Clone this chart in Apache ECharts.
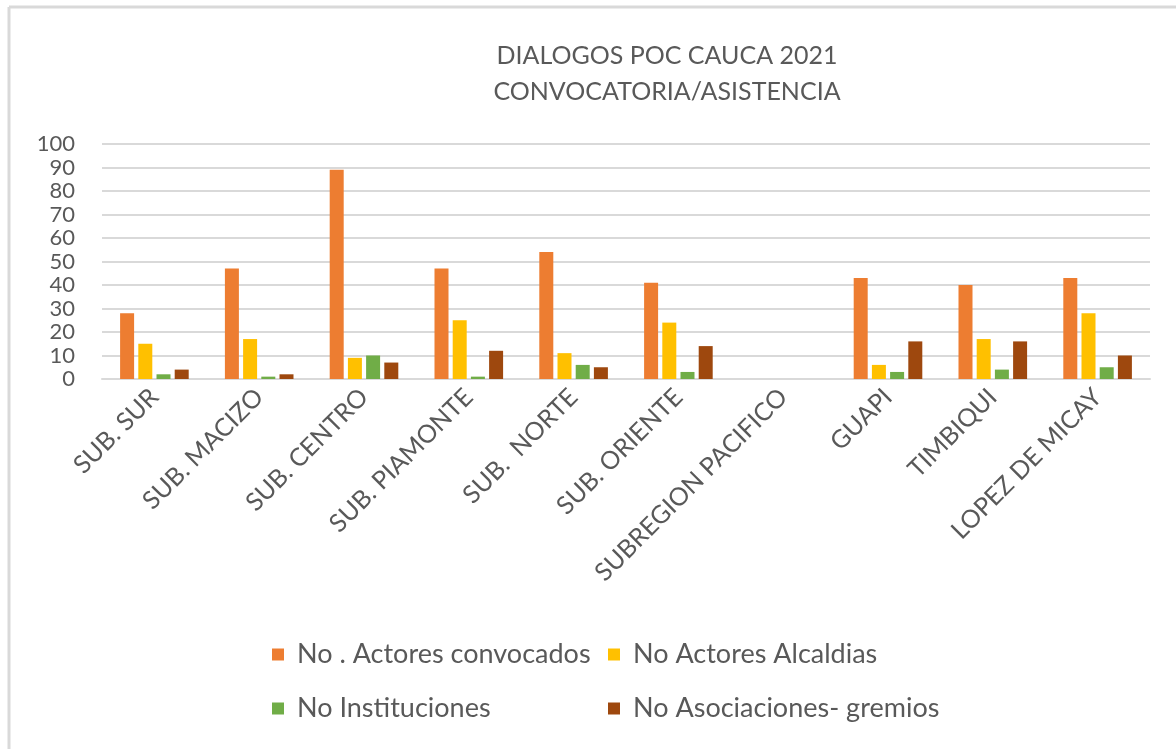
<!DOCTYPE html>
<html>
<head>
<meta charset="utf-8">
<script src="https://cdn.jsdelivr.net/npm/echarts@6/dist/echarts.min.js"></script>
<style>
  html, body { margin: 0; padding: 0; background: #fff; }
  #chart { width: 1176px; height: 749px; }
</style>
</head>
<body>
<div id="chart"></div>
<script>
// categorias y valores
var categorias = ['SUB. SUR', 'SUB. MACIZO', 'SUB. CENTRO', 'SUB. PIAMONTE', 'SUB.  NORTE',
  'SUB. ORIENTE', 'SUBREGION PACIFICO', 'GUAPI', 'TIMBIQUI', 'LOPEZ DE MICAY'];
var actoresConvocados = [28, 47, 89, 47, 54, 41, 0, 43, 40, 43];
var actoresAlcaldias = [15, 17, 9, 25, 11, 24, 0, 6, 17, 28];
var instituciones = [2, 1, 10, 1, 6, 3, 0, 3, 4, 5];
var asociaciones = [4, 2, 7, 12, 5, 14, 0, 16, 16, 10];
var yTicks = [0, 10, 20, 30, 40, 50, 60, 70, 80, 90, 100];

var nombres = ['No . Actores convocados', 'No Actores Alcaldias', 'No Instituciones', 'No Asociaciones- gremios'];
var colores = ['#ED7D31', '#FFC000', '#70AD47', '#9E480E'];
var datos = [actoresConvocados, actoresAlcaldias, instituciones, asociaciones];

var font = 'Lato, "Open Sans", sans-serif';
var gris = '#595959';

var chart = echarts.init(document.getElementById('chart'));

function leyenda(nombre, left, top) {
  return {
    data: [nombre],
    left: left,
    top: top,
    icon: 'rect',
    itemWidth: 12,
    itemHeight: 12,
    itemGap: 0,
    padding: 0,
    textStyle: { fontFamily: font, fontSize: 27, color: gris, padding: [0, 0, 0, 8] }
  };
}

var option = {
  backgroundColor: '#fff',
  animation: false,
  color: colores,
  title: {
    text: 'DIALOGOS POC CAUCA 2021\nCONVOCATORIA/ASISTENCIA',
    left: 662,
    top: 33,
    textAlign: 'center',
    textStyle: {
      fontFamily: font,
      fontSize: 25,
      fontWeight: 'normal',
      color: gris,
      lineHeight: 36
    }
  },
  legend: [
    leyenda(nombres[0], 272, 641),
    leyenda(nombres[1], 608, 641),
    leyenda(nombres[2], 272, 695),
    leyenda(nombres[3], 608, 695)
  ],
  grid: { left: 102, right: 26, top: 144, bottom: 370, containLabel: false },
  xAxis: {
    type: 'category',
    data: categorias,
    axisLine: { lineStyle: { color: '#d9d9d9', width: 2 } },
    axisTick: { show: false },
    axisLabel: {
      interval: 0,
      rotate: 45,
      margin: 14,
      fontFamily: font,
      fontSize: 25,
      color: gris
    }
  },
  yAxis: {
    type: 'value',
    min: yTicks[0],
    max: yTicks[yTicks.length - 1],
    interval: 10,
    axisLine: { show: false },
    axisTick: { show: false },
    splitLine: { showMinLine: true, showMaxLine: true, lineStyle: { color: '#d9d9d9', width: 2 } },
    axisLabel: {
      fontFamily: font, fontSize: 22, color: gris, margin: 27,
      showMinLabel: true, showMaxLabel: true, hideOverlap: false
    }
  },
  graphic: [
    { type: 'line', shape: { x1: 9, y1: 7, x2: 1176, y2: 7 }, style: { stroke: '#d9d9d9', lineWidth: 3 } },
    { type: 'line', shape: { x1: 9, y1: 7, x2: 9, y2: 749 }, style: { stroke: '#d9d9d9', lineWidth: 3 } }
  ],
  series: datos.map(function (d, i) {
    return {
      name: nombres[i],
      type: 'bar',
      data: d,
      barWidth: 14,
      barGap: '30%',
      itemStyle: { color: colores[i] }
    };
  })
};

chart.setOption(option);
</script>
</body>
</html>
